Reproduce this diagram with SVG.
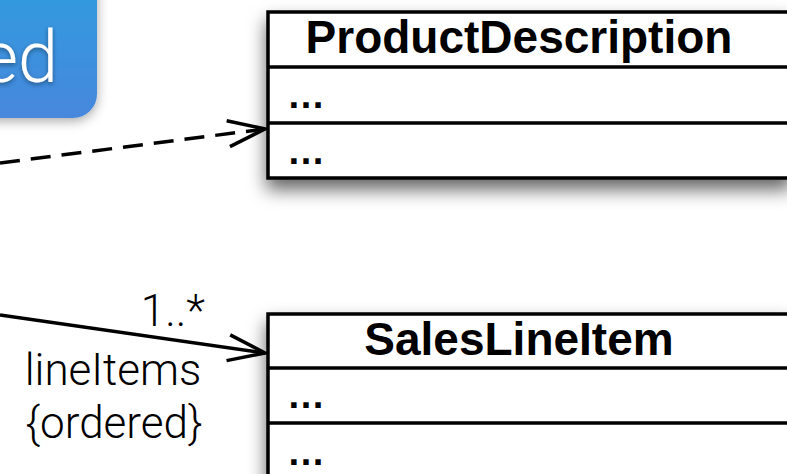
<svg xmlns="http://www.w3.org/2000/svg" width="787" height="474" viewBox="0 0 787 474">
<style>
.box{fill:#fff;stroke:#000;stroke-width:3.5}
.div{stroke:#000;stroke-width:3.5}
.title{font-family:"Liberation Sans",Arial,sans-serif;font-weight:bold;font-size:46px;fill:#000;text-anchor:middle}
.dots{font-family:"Liberation Sans",Arial,sans-serif;font-weight:bold;font-size:38px;fill:#000}
.lbl{font-family:Roboto,"Liberation Sans",sans-serif;font-weight:300;font-size:44px;fill:#000}
.edge{fill:none;stroke:#000;stroke-width:3.5}
</style>
<defs>
<linearGradient id="blue" x1="0" y1="0" x2="0" y2="118" gradientUnits="userSpaceOnUse">
<stop offset="0" stop-color="#3399de"/>
<stop offset="1" stop-color="#4787dc"/>
</linearGradient>
<filter id="shadow" x="-20%" y="-20%" width="140%" height="160%">
<feDropShadow dx="0" dy="10" stdDeviation="9" flood-color="#000" flood-opacity="0.6"/>
</filter>
<filter id="bshadow" x="-30%" y="-30%" width="160%" height="160%">
<feDropShadow dx="0" dy="3" stdDeviation="6" flood-color="#000" flood-opacity="0.35"/>
</filter>
<filter id="tshadow" x="-20%" y="-20%" width="140%" height="140%">
<feDropShadow dx="0" dy="2" stdDeviation="2" flood-color="#123" flood-opacity="0.5"/>
</filter>
<marker id="open" markerUnits="userSpaceOnUse" markerWidth="60" markerHeight="60" refX="0" refY="0" orient="auto" overflow="visible">
<path d="M-37,-13 L0,0 L-37,13" fill="none" stroke="#000" stroke-width="3.5" stroke-dasharray="none"/>
</marker>
</defs>

<g id="button">
<rect x="-60" y="-60" width="157" height="178" rx="24" fill="url(#blue)" filter="url(#bshadow)"/>
<text x="58" y="82" text-anchor="end" font-family="Roboto,'Liberation Sans',sans-serif" font-weight="300" font-size="72" fill="#fff" filter="url(#tshadow)">ed</text>
</g>

<g id="connectors">
<path class="edge" d="M0,163 L265,129" stroke-dasharray="20 11" marker-end="url(#open)"/>
<path class="edge" d="M0,315 L265,353" marker-end="url(#open)"/>
<text class="lbl" x="205" y="326" text-anchor="end">1..*</text>
<text class="lbl" x="113" y="385" text-anchor="middle">lineItems</text>
<text class="lbl" x="114" y="438" text-anchor="middle">{ordered}</text>
</g>

<g id="ProductDescription">
<rect class="box" x="268" y="12" width="522" height="166" filter="url(#shadow)"/>
<line class="div" x1="268" y1="67" x2="790" y2="67"/>
<line class="div" x1="268" y1="123" x2="790" y2="123"/>
<text class="title" x="519" y="53">ProductDescription</text>
<text class="dots" x="287" y="108">…</text>
<text class="dots" x="287" y="164">…</text>
</g>

<g id="SalesLineItem">
<rect class="box" x="268" y="314" width="522" height="200" filter="url(#shadow)"/>
<line class="div" x1="268" y1="368" x2="790" y2="368"/>
<line class="div" x1="268" y1="423" x2="790" y2="423"/>
<text class="title" x="519" y="355">SalesLineItem</text>
<text class="dots" x="287" y="408">…</text>
<text class="dots" x="287" y="465">…</text>
</g>
</svg>
